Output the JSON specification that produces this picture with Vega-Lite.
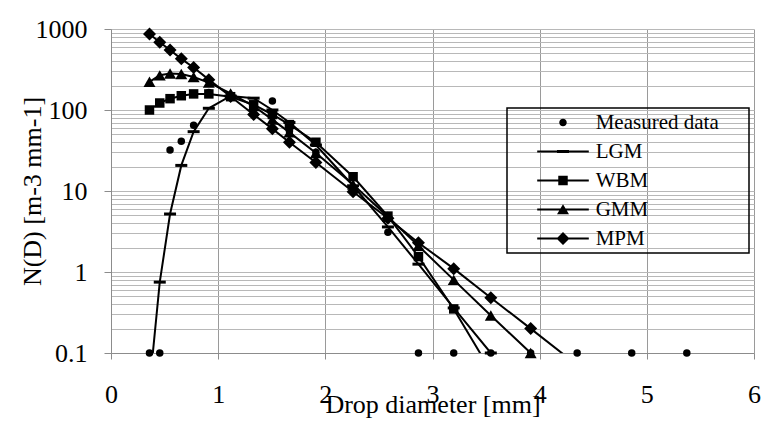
{
  "$schema": "https://vega.github.io/schema/vega-lite/v6.json",
  "autosize": {"type": "none"},
  "padding": {"left": 111, "top": 29, "right": 12, "bottom": 68},
  "width": 643,
  "height": 324,
  "background": "white",
  "config": {
    "font": "Liberation Serif",
    "view": {"stroke": null},
    "legend": {"strokeWidth": 1.5}
  },
  "data": {
    "values": [
      {"D": 0.359, "Measured data": 0.1, "LGM": 0.0375, "WBM": 100, "GMM": 223, "MPM": 867},
      {"D": 0.455, "Measured data": 0.1, "LGM": 0.75, "WBM": 122, "GMM": 268, "MPM": 686},
      {"D": 0.551, "Measured data": 32, "LGM": 5.2, "WBM": 138, "GMM": 282, "MPM": 551},
      {"D": 0.656, "Measured data": 41, "LGM": 20.7, "WBM": 150, "GMM": 278, "MPM": 428},
      {"D": 0.771, "Measured data": 65, "LGM": 54, "WBM": 158, "GMM": 255, "MPM": 335},
      {"D": 0.913, "Measured data": 165, "LGM": 105, "WBM": 158, "GMM": 218, "MPM": 237},
      {"D": 1.116, "Measured data": 150, "LGM": 149, "WBM": 146, "GMM": 160, "MPM": 147},
      {"D": 1.331, "Measured data": 112, "LGM": 140, "WBM": 116, "GMM": 112, "MPM": 88},
      {"D": 1.506, "Measured data": 129, "LGM": 100, "WBM": 88, "GMM": 76, "MPM": 58.5},
      {"D": 1.665, "Measured data": 55, "LGM": 70, "WBM": 66, "GMM": 53, "MPM": 40},
      {"D": 1.912, "Measured data": 30, "LGM": 37, "WBM": 40, "GMM": 29.5, "MPM": 22.5},
      {"D": 2.259, "Measured data": 11, "LGM": 11.6, "WBM": 15, "GMM": 12, "MPM": 9.8},
      {"D": 2.584, "Measured data": 3.1, "LGM": 3.6, "WBM": 4.9, "GMM": 4.8, "MPM": 4.6},
      {"D": 2.869, "Measured data": 0.1, "LGM": 1.25, "WBM": 1.55, "GMM": 2.1, "MPM": 2.3},
      {"D": 3.198, "Measured data": 0.1, "LGM": 0.36, "WBM": 0.35, "GMM": 0.8, "MPM": 1.1},
      {"D": 3.544, "Measured data": 0.1, "LGM": 0.1, "WBM": 0.06, "GMM": 0.29, "MPM": 0.48},
      {"D": 3.916, "Measured data": 0.1, "LGM": 0.025, "WBM": 0.007, "GMM": 0.1, "MPM": 0.2},
      {"D": 4.35, "Measured data": 0.1, "LGM": 0.005, "WBM": 0.0004, "GMM": 0.022, "MPM": 0.071},
      {"D": 4.859, "Measured data": 0.1, "LGM": 0.0009, "WBM": 0.00001, "GMM": 0.0044, "MPM": 0.021},
      {"D": 5.373, "Measured data": 0.1, "LGM": 0.00015, "WBM": 0.0000002, "GMM": 0.0008, "MPM": 0.0064}
    ]
  },
  "transform": [
    {"fold": ["Measured data", "LGM", "WBM", "GMM", "MPM"], "as": ["series", "N"]}
  ],
  "encoding": {
    "x": {
      "field": "D",
      "type": "quantitative",
      "scale": {"domain": [0, 6], "nice": false, "zero": false},
      "axis": {
        "values": [0, 1, 2, 3, 4, 5, 6],
        "title": "Drop diameter [mm]",
        "titleFontSize": 26,
        "titleFontWeight": "normal",
        "titleColor": "black",
        "titleY": 59,
        "titleBaseline": "alphabetic",
        "labelFontSize": 26,
        "labelColor": "black",
        "labelBaseline": "alphabetic",
        "labelPadding": 43,
        "labelFlush": false,
        "labelOverlap": false,
        "tickSize": 6,
        "tickColor": "#8c8c8c",
        "domainColor": "#8c8c8c",
        "grid": true,
        "gridColor": "#9a9a9a",
        "gridWidth": 1
      }
    },
    "y": {
      "field": "N",
      "type": "quantitative",
      "scale": {"type": "log", "domain": [0.1, 1000], "nice": false},
      "axis": {
        "values": [0.1, 0.2, 0.3, 0.4, 0.5, 0.6, 0.7, 0.8, 0.9, 1, 2, 3, 4, 5, 6, 7, 8, 9, 10, 20, 30, 40, 50, 60, 70, 80, 90, 100, 200, 300, 400, 500, 600, 700, 800, 900, 1000],
        "labelExpr": "indexof([0.1, 1, 10, 100, 1000], datum.value) >= 0 ? datum.value + '' : ''",
        "title": "N(D) [m-3 mm-1]",
        "titleFontSize": 26,
        "titleFontWeight": "normal",
        "titleColor": "black",
        "titleX": -71,
        "titleBaseline": "alphabetic",
        "labelFontSize": 26,
        "labelColor": "black",
        "labelPadding": 17,
        "labelFlush": false,
        "labelOverlap": false,
        "tickSize": 7,
        "tickColor": "#8c8c8c",
        "tickOpacity": {"condition": {"test": "indexof([0.1, 1, 10, 100, 1000], datum.value) >= 0", "value": 1}, "value": 0},
        "domainColor": "#8c8c8c",
        "grid": true,
        "gridColor": "#b8b8b8",
        "gridWidth": 1
      }
    }
  },
  "layer": [
    {
      "transform": [{"filter": "datum.series !== 'Measured data'"}],
      "mark": {"type": "line", "color": "black", "strokeWidth": 2, "clip": true},
      "encoding": {"detail": {"field": "series", "type": "nominal"}}
    },
    {
      "transform": [{"filter": "datum.N >= 0.1"}],
      "mark": {"type": "point", "filled": true, "opacity": 1, "color": "black"},
      "encoding": {
        "shape": {
          "condition": [
            {"test": "datum.series === 'Measured data'", "value": "circle"},
            {"test": "datum.series === 'LGM'", "value": "M-1,-0.25H1V0.25H-1Z"},
            {"test": "datum.series === 'WBM'", "value": "square"},
            {"test": "datum.series === 'GMM'", "value": "triangle-up"}
          ],
          "value": "diamond"
        },
        "size": {
          "condition": [
            {"test": "datum.series === 'Measured data'", "value": 56},
            {"test": "datum.series === 'WBM'", "value": 90},
            {"test": "datum.series === 'MPM'", "value": 169}
          ],
          "value": 144
        }
      }
    },
    {
      "transform": [{"filter": "datum.D < 0"}],
      "mark": {"type": "point", "filled": true, "color": "black", "size": 441},
      "encoding": {
        "shape": {
          "field": "series",
          "type": "nominal",
          "scale": {
            "domain": ["Measured data", "LGM", "WBM", "GMM", "MPM"],
            "range": [
              "M-0.357,0A0.357,0.357 0 1,1 0.357,0A0.357,0.357 0 1,1 -0.357,0Z M17.24,0L17.24,0Z",
              "M-2.457,-0.095H2.457V0.095H-2.457Z M-0.571,-0.143H0.571V0.143H-0.571Z",
              "M-2.457,-0.095H2.457V0.095H-2.457Z M-0.452,-0.452H0.452V0.452H-0.452Z",
              "M-2.457,-0.095H2.457V0.095H-2.457Z M0,-0.505L0.571,0.448H-0.571Z",
              "M-2.457,-0.095H2.457V0.095H-2.457Z M0,-0.619L0.619,0L0,0.619L-0.619,0Z"
            ]
          },
          "legend": {
            "title": null,
            "orient": "none",
            "legendX": 396,
            "legendY": 79,
            "padding": 4,
            "strokeColor": "black",
            "labelFontSize": 21,
            "labelFont": "Liberation Serif",
            "labelColor": "black",
            "symbolOffset": 41.5,
            "labelOffset": 22.2,
            "labelLimit": 400,
            "rowPadding": 7,
            "symbolSize": 441,
            "symbolFillColor": "black",
            "symbolStrokeWidth": 0,
            "symbolOpacity": 1
          }
        }
      }
    }
  ]
}
